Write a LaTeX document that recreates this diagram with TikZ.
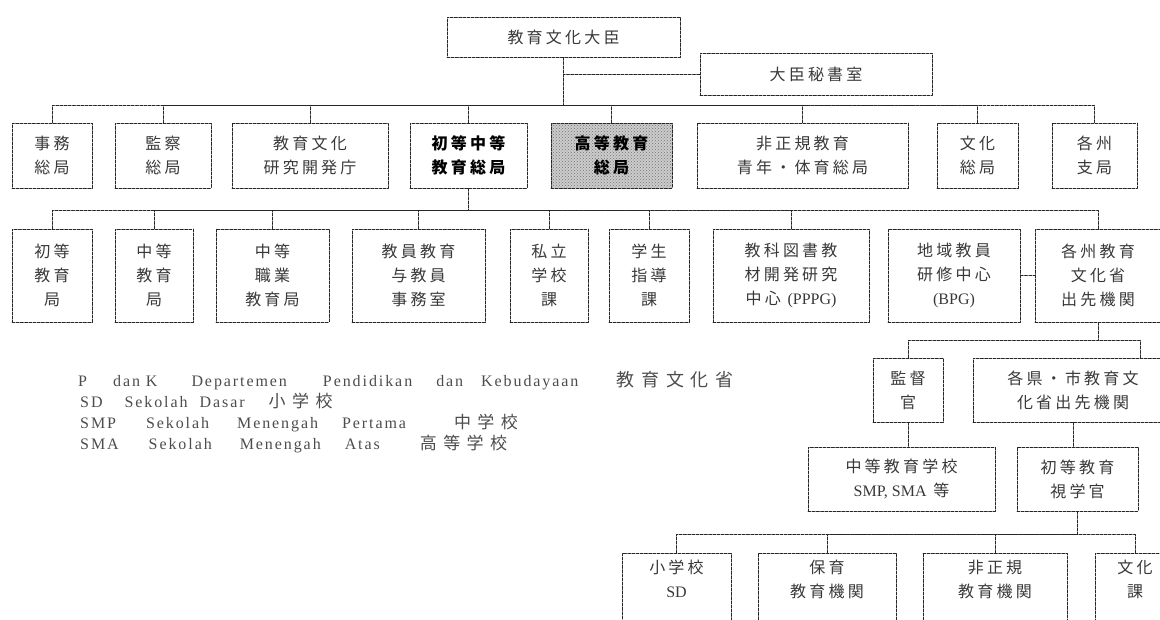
\documentclass[tikz,border=0pt]{standalone}
\usepackage{fontspec}
\setmainfont{Liberation Serif}
\newfontfamily\cjk[LetterSpace=20]{Noto Sans CJK JP}
\newfontfamily\keycjk[LetterSpace=38]{Noto Sans CJK JP}
\newfontfamily\keyfont[LetterSpace=12]{Liberation Serif}
\usetikzlibrary{patterns}

\begin{document}
\begin{tikzpicture}[x=1pt,y=-1pt,line cap=round,line join=round,
  unit/.style={draw=black!85,line width=0.7pt,dash pattern=on 3pt off 1.2pt,
    inner sep=0pt,align=center,text=black!78,
    font=\cjk\fontsize{16}{24}\selectfont},
  link/.style={draw=black!85,line width=0.7pt,dash pattern=on 3pt off 1.2pt},
  keyline/.style={anchor=base west,inner sep=0pt,text=black!70,
    font=\keyfont\fontsize{16}{21}\selectfont}]
  \useasboundingbox (0,0) rectangle (1160,619);

  % Minister and staff
  \node[unit,minimum width=233pt,minimum height=40pt] (minister) at (563.5,37) {教育文化大臣};
  \node[unit,minimum width=232pt,minimum height=42pt] (aide) at (816,74) {大臣秘書室};

  % Directorates general
  \node[unit,minimum width=80pt,minimum height=65pt]  (l2a) at (52,155.5)   {事務\\総局};
  \node[unit,minimum width=96pt,minimum height=65pt]  (l2b) at (163,155.5)  {監察\\総局};
  \node[unit,minimum width=156pt,minimum height=65pt] (l2c) at (310,155.5)  {教育文化\\研究開発庁};
  \node[unit,minimum width=117pt,minimum height=65pt,text=black,font=\cjk\bfseries\fontsize{16}{24}\selectfont]
    (l2d) at (468.5,155.5) {初等中等\\教育総局};
  \node[unit,minimum width=121pt,minimum height=65pt,text=black,font=\cjk\bfseries\fontsize{16}{24}\selectfont,
    preaction={fill=black!20},pattern=crosshatch dots,pattern color=black!55]
    (l2e) at (611.5,155.5) {高等教育\\総局};
  \node[unit,minimum width=211pt,minimum height=65pt] (l2f) at (802.5,155.5) {非正規教育\\青年・体育総局};
  \node[unit,minimum width=81pt,minimum height=65pt]  (l2g) at (977.5,155.5) {文化\\総局};
  \node[unit,minimum width=85pt,minimum height=65pt]  (l2h) at (1094.5,155.5) {各州\\支局};

  % Under the primary and secondary directorate
  \node[unit,minimum width=80pt,minimum height=93pt]  (l3a) at (52,275.5)   {初等\\教育\\局};
  \node[unit,minimum width=78pt,minimum height=93pt]  (l3b) at (154,275.5)  {中等\\教育\\局};
  \node[unit,minimum width=113pt,minimum height=93pt] (l3c) at (272.5,275.5) {中等\\職業\\教育局};
  \node[unit,minimum width=133pt,minimum height=93pt] (l3d) at (418.5,275.5) {教員教育\\与教員\\事務室};
  \node[unit,minimum width=78pt,minimum height=93pt]  (l3e) at (549,275.5)  {私立\\学校\\課};
  \node[unit,minimum width=80pt,minimum height=93pt]  (l3f) at (649,275.5)  {学生\\指導\\課};
  \node[unit,minimum width=156pt,minimum height=93pt] (l3g) at (791,275.5)  {教科図書教\\材開発研究\\中心 {\rmfamily (PPPG)}};
  \node[unit,minimum width=132pt,minimum height=93pt] (l3h) at (954,275.5)  {地域教員\\研修中心\\{\rmfamily (BPG)}};
  \node[unit,minimum width=126pt,minimum height=93pt] (l3i) at (1098,275.5) {各州教育\\文化省\\出先機関};

  % Regional level
  \node[unit,minimum width=70pt,minimum height=64pt]  (l4a) at (908,390)    {監督\\官};
  \node[unit,minimum width=200pt,minimum height=64pt] (l4b) at (1073,390)   {各県・市教育文\\化省出先機関};
  \node[unit,minimum width=187pt,minimum height=64pt] (l5a) at (901.5,479)  {中等教育学校\\{\rmfamily SMP, SMA} 等};
  \node[unit,minimum width=121pt,minimum height=64pt] (l5b) at (1077.5,479) {初等教育\\視学官};
  \node[unit,minimum width=109pt,minimum height=72pt,text depth=20pt] (l6a) at (676.5,589) {小学校\\{\rmfamily SD}};
  \node[unit,minimum width=138pt,minimum height=72pt,text depth=20pt] (l6b) at (827,589)   {保育\\教育機関};
  \node[unit,minimum width=144pt,minimum height=72pt,text depth=20pt] (l6c) at (995,589)   {非正規\\教育機関};
  \node[unit,minimum width=80pt,minimum height=72pt,text depth=20pt]  (l6d) at (1135,589)  {文化\\課};

  % Connectors
  \draw[link] (minister.south) -- ++(0,48) coordinate (hubA);
  \draw[link] (aide.west) -- (aide.west -| minister.south);
  \foreach \n in {l2a,l2b,l2c,l2d,l2e,l2f,l2g,l2h}
    \draw[link] (\n.north) |- (hubA);
  \draw[link] (l2d.south) -- ++(0,22) coordinate (hubB);
  \foreach \n in {l3a,l3b,l3c,l3d,l3e,l3f,l3g,l3i}
    \draw[link] (\n.north) |- (hubB);
  \draw[link] (l3h.east) -- (l3h.east -| l3i.west);
  \draw[link] (l3i.south) -- ++(0,18) coordinate (hubC);
  \draw[link] (l4a.north) |- (hubC);
  \draw[link] ([xshift=67pt]l4b.north) |- (hubC);
  \draw[link] (l4a.south) -- (l4a.south |- l5a.north);
  \draw[link] (l4b.south) -- (l4b.south |- l5b.north);
  \draw[link] (l5b.south) -- ++(0,23) coordinate (hubD);
  \foreach \n in {l6a,l6b,l6c,l6d}
    \draw[link] (\n.north) |- (hubD);

  % Key to abbreviations
  \node[keyline] (keyA) at (78,386) {P\hspace{26pt}dan K\hspace{34pt}Departemen\hspace{36pt}Pendidikan\hspace{24pt}dan\hspace{18pt}Kebudayaan\hspace{38pt}{\keycjk\fontsize{18}{21}\selectfont 教育文化省}};
  \node[keyline] (keyB) at (80,407) {SD\hspace{22pt}Sekolah\hspace{12pt}Dasar\hspace{24pt}{\keycjk\fontsize{17}{21}\selectfont 小学校}};
  \node[keyline] (keyC) at (80,428) {SMP\hspace{30pt}Sekolah\hspace{28pt}Menengah\hspace{24pt}Pertama\hspace{48pt}{\keycjk\fontsize{17}{21}\selectfont 中学校}};
  \node[keyline] (keyD) at (80,449) {SMA\hspace{30pt}Sekolah\hspace{28pt}Menengah\hspace{24pt}Atas\hspace{40pt}{\keycjk\fontsize{17}{21}\selectfont 高等学校}};
\end{tikzpicture}
\end{document}
